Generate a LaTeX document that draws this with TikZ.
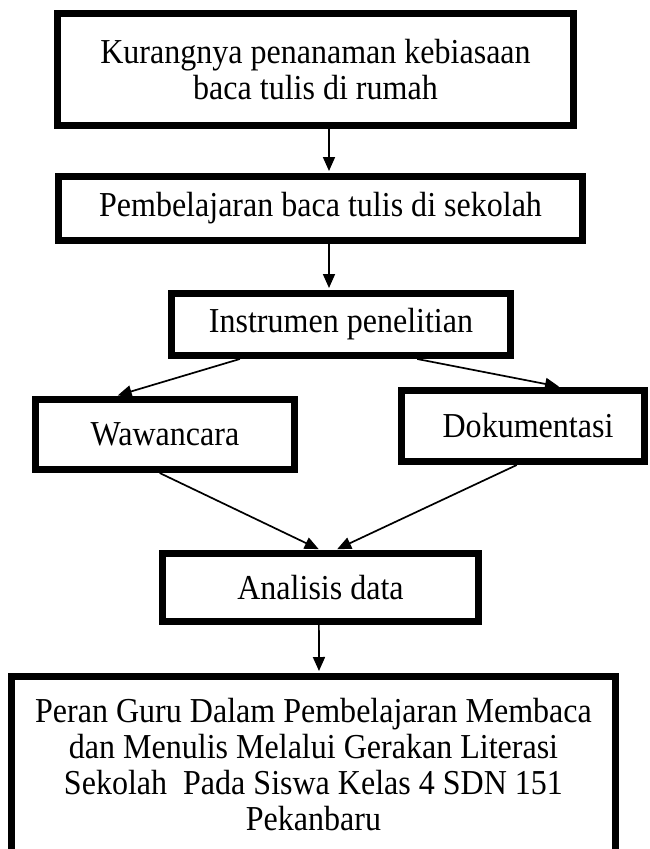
\documentclass[tikz,border=0pt]{standalone}
\usepackage{fontspec}
\setmainfont[FakeStretch=0.915]{Liberation Serif}
\usetikzlibrary{arrows.meta,calc}
\begin{document}
\begin{tikzpicture}[x=1pt,y=-1pt,
  box/.style={draw=black,line width=7pt,rectangle,inner sep=0pt,align=center,
    font=\fontsize{35}{36}\selectfont},
  arr/.style={line width=1.7pt,-{Triangle[length=14pt,width=12pt]},shorten >=2pt}]
\path[use as bounding box,fill=white] (0,0) rectangle (649,849);
\clip (0,0) rectangle (649,849);
\node[box,minimum width=516pt,minimum height=112pt] (b1) at (315.5,69.5)
  {Kurangnya penanaman kebiasaan\\baca tulis di rumah};
\node[box,minimum width=524pt,minimum height=64pt] (b2) at (320.5,208.5)
  {Pembelajaran baca tulis di sekolah};
\node[box,minimum width=339.5pt,minimum height=62pt] (b3) at (341,324.5)
  {Instrumen penelitian};
\node[box,minimum width=259pt,minimum height=70pt] (w) at (165,434.5)
  {Wawancara};
\node[box,minimum width=243pt,minimum height=71pt] (d) at (523,426)
  {\hspace*{10pt}Dokumentasi};
\node[box,minimum width=604pt,minimum height=175.5pt] (f) at (313.5,764.25)
  {Peran Guru Dalam Pembelajaran Membaca\\dan Menulis Melalui Gerakan Literasi\\Sekolah\ \ Pada Siswa Kelas 4 SDN 151\\Pekanbaru};
\node[box,minimum width=316pt,minimum height=68pt] (a) at (320.5,587.5)
  {Analisis data};
\coordinate (ax) at (329,0);
\draw[arr] (b1.south -| ax) -- (b2.north -| ax);
\draw[arr] (b2.south -| ax) -- (b3.north -| ax);
\draw[arr] ($(b3.south west)!0.208!(b3.south east)$) -- ($(w.north west)!0.315!(w.north east)$);
\draw[arr] ($(b3.south west)!0.72!(b3.south east)$) -- ($(d.north west)!0.652!(d.north east)$);
\draw[arr] ($(w.south west)!0.48!(w.south east)$) -- ($(a.north west)!0.50!(a.north east)$);
\draw[arr] ($(d.south west)!0.475!(d.south east)$) -- ($(a.north west)!0.546!(a.north east)$);
\draw[arr] ($(a.south west)!0.495!(a.south east)$) -- ($(f.north west)!0.509!(f.north east)$);
\end{tikzpicture}
\end{document}
